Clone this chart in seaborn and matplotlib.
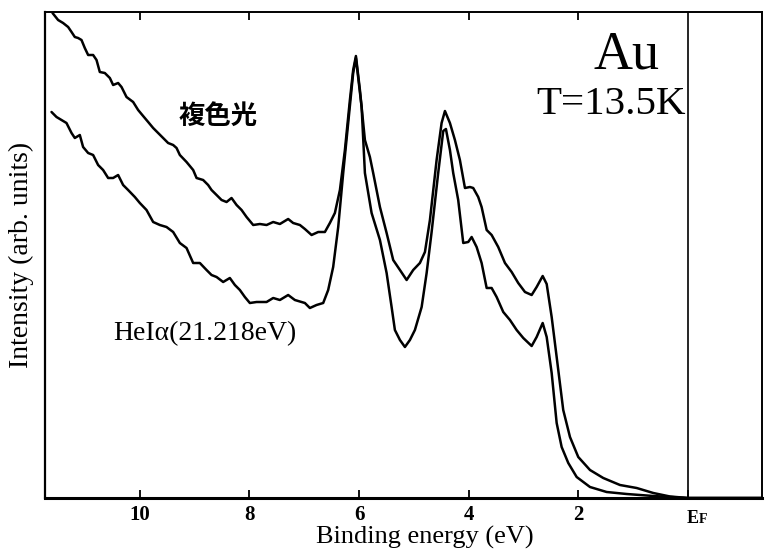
import matplotlib
matplotlib.use("Agg")
import matplotlib.pyplot as plt
import seaborn as sns
import pandas as pd

# Binding energy (eV) and intensity (arb. units)
multi_energy = [11.593, 11.491, 11.400, 11.308, 11.246, 11.186, 11.126, 11.064, 11.004, 10.943,
                10.852, 10.790, 10.730, 10.639, 10.547, 10.487, 10.396, 10.334, 10.243, 10.122,
                10.031, 9.940, 9.848, 9.757, 9.666, 9.575, 9.484, 9.392, 9.330, 9.270,
                9.148, 9.027, 8.965, 8.845, 8.754, 8.692, 8.600, 8.509, 8.418, 8.327,
                8.235, 8.144, 8.053, 7.932, 7.810, 7.688, 7.567, 7.445, 7.294, 7.203,
                7.080, 6.989, 6.867, 6.746, 6.624, 6.533, 6.442, 6.350, 6.259, 6.168,
                6.108, 6.058, 5.985, 5.894, 5.803, 5.743, 5.620, 5.498, 5.378, 5.255,
                5.133, 5.013, 4.891, 4.799, 4.708, 4.586, 4.495, 4.434, 4.343, 4.252,
                4.161, 4.069, 3.978, 3.918, 3.827, 3.765, 3.673, 3.582, 3.462, 3.339,
                3.217, 3.097, 2.974, 2.852, 2.761, 2.651, 2.578, 2.487, 2.396, 2.276,
                2.153, 2.002, 1.788, 1.546, 1.241, 0.936, 0.633, 0.328, 0.0, -1.35]
multi_intensity = [485, 478, 475, 471, 466, 461, 460, 458, 450, 443,
                   443, 438, 426, 425, 420, 413, 415, 411, 401, 396,
                   388, 382, 376, 370, 365, 360, 355, 353, 350, 343,
                   336, 328, 320, 318, 313, 308, 303, 298, 296, 300,
                   293, 288, 281, 273, 274, 273, 276, 274, 279, 275,
                   273, 269, 263, 266, 266, 275, 285, 308, 348, 398,
                   428, 442, 408, 358, 341, 325, 291, 265, 238, 228,
                   218, 228, 235, 246, 278, 338, 375, 387, 375, 358,
                   338, 310, 311, 310, 301, 291, 268, 263, 251, 235,
                   226, 215, 206, 203, 211, 222, 214, 181, 141, 88,
                   61, 41, 28, 20, 13, 10, 5, 1.5, 0, 0]

hei_energy = [11.611, 11.520, 11.429, 11.338, 11.246, 11.186, 11.095, 11.035, 10.943, 10.852,
              10.761, 10.670, 10.578, 10.487, 10.396, 10.305, 10.214, 10.091, 10.000, 9.878,
              9.757, 9.635, 9.513, 9.392, 9.270, 9.148, 9.027, 8.905, 8.783, 8.692,
              8.600, 8.480, 8.358, 8.266, 8.175, 8.084, 7.993, 7.870, 7.810, 7.688,
              7.567, 7.445, 7.294, 7.172, 6.989, 6.898, 6.776, 6.655, 6.564, 6.473,
              6.381, 6.290, 6.199, 6.108, 6.058, 5.954, 5.894, 5.772, 5.620, 5.498,
              5.407, 5.347, 5.255, 5.164, 5.073, 4.982, 4.859, 4.768, 4.677, 4.557,
              4.465, 4.416, 4.343, 4.283, 4.192, 4.100, 4.009, 3.947, 3.856, 3.765,
              3.673, 3.582, 3.491, 3.370, 3.248, 3.126, 3.005, 2.852, 2.761, 2.651,
              2.578, 2.487, 2.396, 2.305, 2.184, 2.031, 1.788, 1.484, 1.119, 0.633,
              0.0, -1.35]
hei_intensity = [386, 381, 378, 375, 365, 360, 363, 351, 345, 343,
                 333, 328, 320, 320, 323, 313, 308, 301, 295, 288,
                 276, 273, 271, 266, 255, 250, 235, 235, 228, 223,
                 221, 216, 220, 213, 208, 201, 195, 196, 196, 196,
                 200, 198, 203, 198, 195, 190, 193, 195, 208, 231,
                 271, 325, 375, 425, 440, 391, 325, 285, 258, 225,
                 191, 168, 158, 151, 158, 168, 191, 225, 266, 325,
                 367, 369, 348, 325, 298, 255, 256, 261, 251, 235,
                 210, 210, 201, 186, 178, 168, 160, 152, 161, 175,
                 161, 125, 75, 51, 35, 21, 11, 6, 4, 2,
                 0, 0]

tick_values = [10, 8, 6, 4, 2, 0]
tick_labels = ["10", "8", "6", "4", "2", ""]

sns.set_theme(style="white")
plt.rcParams["font.family"] = ["Liberation Serif", "DejaVu Serif"]

W, H = 765, 555
fig = plt.figure(figsize=(W / 100, H / 100), dpi=100)
ax = fig.add_axes([45 / W, 1 - 498 / H, 717 / W, 486 / H])

df_multi = pd.DataFrame({"energy": multi_energy, "intensity": multi_intensity})
df_hei = pd.DataFrame({"energy": hei_energy, "intensity": hei_intensity})

sns.lineplot(data=df_multi, x="energy", y="intensity", ax=ax, color="black",
             linewidth=1.8, estimator=None, sort=False, clip_on=False)
sns.lineplot(data=df_hei, x="energy", y="intensity", ax=ax, color="black",
             linewidth=1.8, estimator=None, sort=False, clip_on=False)

ax.set_xlim(11.73, -1.35)
ax.set_ylim(0, 486)
ax.axvline(0, color="black", linewidth=1.2)

ax.set_xticks(tick_values)
ax.set_xticklabels(tick_labels, fontsize=15, fontweight="bold")
ax.set_yticks([])
ax.tick_params(axis="x", direction="in", length=6, width=1.3, top=True,
               bottom=True, pad=5, colors="black")
# no top tick at EF
for t in ax.xaxis.get_major_ticks()[-1:]:
    t.tick2line.set_visible(False)

for side, lw in [("left", 1.6), ("bottom", 2.2), ("top", 1.4), ("right", 1.4)]:
    ax.spines[side].set_visible(True)
    ax.spines[side].set_color("black")
    ax.spines[side].set_linewidth(lw)

ax.set_xlabel("Binding energy (eV)", fontsize=19, labelpad=1, color="black")
ax.xaxis.set_label_coords((425 - 45) / 717, -0.058)
ax.set_ylabel("Intensity (arb. units)", fontsize=20, labelpad=8, color="black")

# EF label (E with small-cap F) under the Fermi-level line
fig.text(687 / W, 1 - 523 / H, "E", fontsize=13, fontweight="bold",
         ha="left", va="baseline", color="black")
fig.text(699 / W, 1 - 523 / H, "F", fontsize=10, fontweight="bold",
         ha="left", va="baseline", color="black")

fig.text(218 / W, 1 - 116 / H, "複色光", fontsize=19, fontweight="bold",
         family=["Noto Sans CJK JP", "DejaVu Sans"],
         ha="center", va="center", color="black")
fig.text(205 / W, 1 - 334 / H, "HeIα(21.218eV)", fontsize=20,
         ha="center", va="center", color="black")
fig.text(627 / W, 1 - 55 / H, "Au", fontsize=39, ha="center", va="center", color="black")
fig.text(611 / W, 1 - 104 / H, "T=13.5K", fontsize=29.5, ha="center", va="center",
         color="black")

fig.savefig("out.png", dpi=100)
